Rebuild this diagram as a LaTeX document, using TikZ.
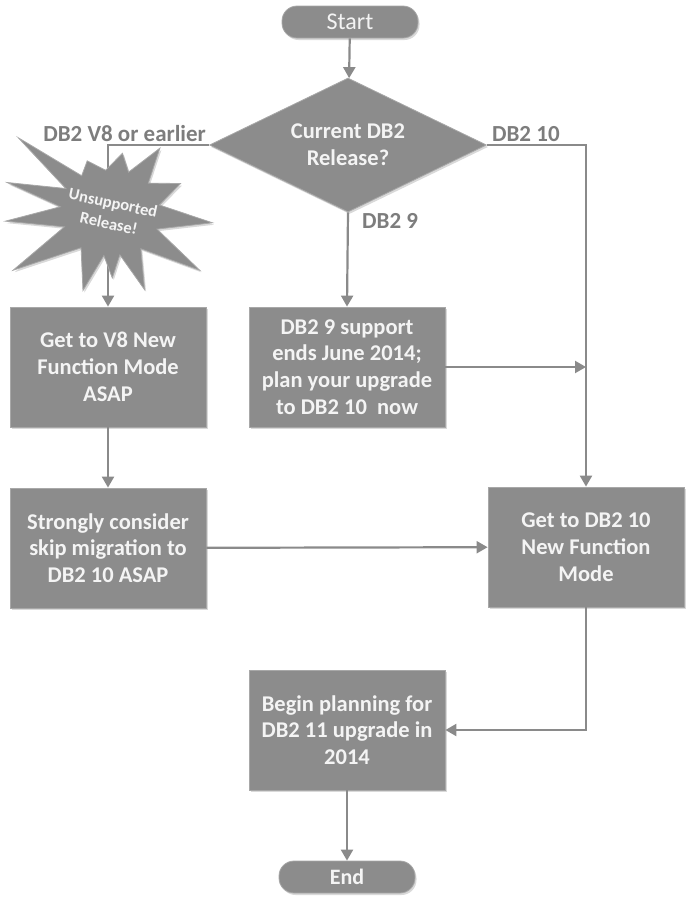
\documentclass[tikz,border=0pt]{standalone}
\usepackage{fontspec}
\setmainfont{Carlito}
\usetikzlibrary{shapes.geometric,arrows.meta,shadows}
\definecolor{boxgray}{RGB}{140,140,140}
\definecolor{edgegray}{RGB}{168,168,168}
\definecolor{boxtext}{RGB}{244,244,244}
\definecolor{linegray}{RGB}{138,138,138}
\definecolor{lblgray}{RGB}{125,125,125}
\begin{document}
\begin{tikzpicture}[x=1pt,y=-1pt,
  box/.style={rectangle,fill=boxgray,draw=edgegray,line width=0.8pt,text=boxtext,
    minimum width=196pt,minimum height=120pt,inner sep=2pt,align=center,
    font=\fontsize{22.5}{26.7}\selectfont\bfseries,
    drop shadow={shadow xshift=1.5pt,shadow yshift=-2pt,opacity=0.3}},
  pill/.style={rectangle,rounded corners=15pt,fill=boxgray,draw=edgegray,line width=0.8pt,
    text=boxtext,minimum width=136pt,minimum height=32pt,inner sep=0pt,
    drop shadow={shadow xshift=1.5pt,shadow yshift=-2pt,opacity=0.3}},
  decision/.style={diamond,aspect=2.07,fill=boxgray,draw=edgegray,line width=0.8pt,text=boxtext,
    minimum width=277pt,minimum height=134pt,inner sep=0pt,align=center,
    font=\fontsize{22.5}{27}\selectfont\bfseries,
    drop shadow={shadow xshift=1.5pt,shadow yshift=-2pt,opacity=0.3}},
  lbl/.style={text=lblgray,font=\fontsize{23}{26}\selectfont\bfseries,inner sep=2pt},
  arr/.style={draw=linegray,line width=2.2pt,-{Triangle[length=11pt,width=12pt]}}]
\useasboundingbox (0,0) rectangle (687,898);

% Start and the release question
\node[pill,font=\fontsize{24}{28}\selectfont] (start) at (350,22) {Start};
\node[decision] (dec) at (348,145) {Current DB2\\Release?};
\draw[arr] (start) -- (dec);

% branch labels
\node[lbl,anchor=south east] (lv8) at ([xshift=-1pt,yshift=1pt]dec.west) {DB2 V8 or earlier};
\node[lbl,anchor=south west] (l10) at ([xshift=3pt,yshift=1pt]dec.east) {DB2 10};
\node[lbl,anchor=north west] (l9) at ([xshift=12pt,yshift=1pt]dec.south) {DB2 9};

% boxes
\node[box] (v8) at (108,367) {Get to V8 New\\Function Mode\\ASAP};
\node[box] (db9) at (347,367) {DB2 9 support\\ends June 2014;\\plan your upgrade\\to DB2 10~ now};
\node[box] (skip) at (108,548) {Strongly consider\\skip migration to\\DB2 10 ASAP};
\node[box] (nfm) at (586,547) {Get to DB2 10\\New Function\\Mode};
\node[box] (plan) at (347,730) {Begin planning for\\DB2 11 upgrade in\\2014};
\node[pill,font=\fontsize{22}{26}\selectfont\bfseries] (end) at (347,877) {End};

% connectors
\draw[arr] (dec.west) -| (v8.north);
\draw[arr] (dec.south) -- (db9.north);
\draw[arr] (dec.east) -| (nfm.north);
\coordinate (join) at (db9.east -| nfm.north);
\draw[arr] (db9.east) -- (join);
\draw[arr] (v8) -- (skip);
\draw[arr] (skip) -- (nfm);
\draw[arr] (nfm.south) |- (plan.east);
\draw[arr] (plan) -- (end);

% Unsupported release burst
\begin{scope}[shift={(110,212)}]
\filldraw[fill=boxgray,draw=edgegray,line width=0.8pt,
  drop shadow={shadow xshift=1.5pt,shadow yshift=-2pt,opacity=0.3}]
  (-175:105pt) -- (-162:48pt) -- (-149:113pt) -- (-129:46pt) -- (-109:83pt)
  -- (-98:44pt) -- (-88:66pt) -- (-77:44pt) -- (-66:85pt) -- (-50:48pt)
  -- (-33:107pt) -- (-20:50pt) -- (-6:103pt) -- (8:50pt) -- (22:76pt)
  -- (37:48pt) -- (52:81pt) -- (65:44pt) -- (78:60pt) -- (96:42pt)
  -- (114:56pt) -- (128:46pt) -- (141:118pt) -- (152:50pt) -- (164:107pt)
  -- (174:50pt) -- cycle;
\end{scope}
\node[text=boxtext,align=center,rotate=-12,inner sep=0pt,
  font=\fontsize{16.5}{21}\selectfont\bfseries] (star) at (111,213) {Unsupported\\Release!};
\end{tikzpicture}
\end{document}
